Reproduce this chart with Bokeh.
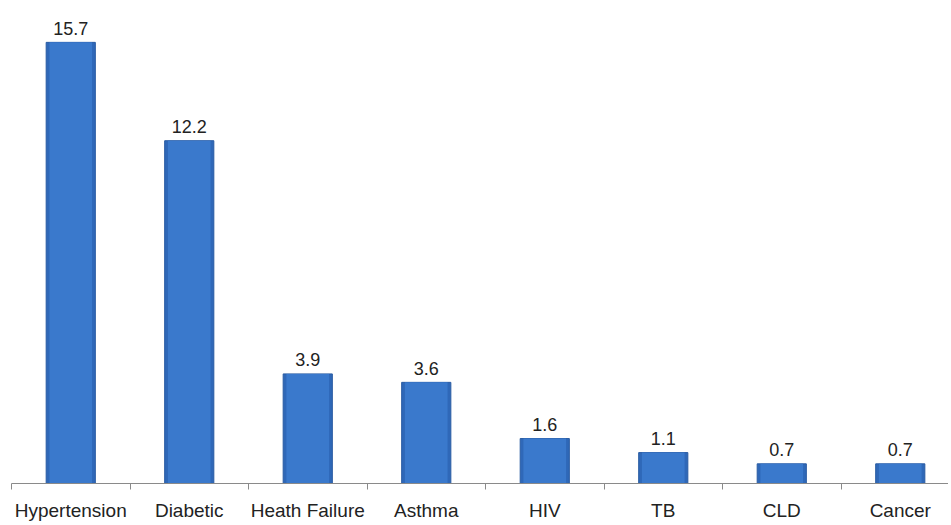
from bokeh.plotting import figure
from bokeh.models import FixedTicker, ColumnDataSource, Range1d
from bokeh.core.properties import value
from bokeh.embed import file_html
from bokeh.resources import INLINE

categories = ["Hypertension", "Diabetic", "Heath Failure", "Asthma", "HIV", "TB", "CLD", "Cancer"]
values = [15.7, 12.2, 3.9, 3.6, 1.6, 1.1, 0.7, 0.7]
value_labels = ["15.7", "12.2", "3.9", "3.6", "1.6", "1.1", "0.7", "0.7"]

FONT = "Liberation Sans"

xs = [i + 0.5 for i in range(len(categories))]
src = ColumnDataSource(dict(x=xs, top=values, lab=value_labels))

p = figure(width=948, height=523, output_backend="svg", toolbar_location=None,
           x_range=Range1d(0, 7.907), y_range=Range1d(0, 17.19),
           min_border_left=11, min_border_right=0, min_border_top=0, min_border_bottom=0)

p.outline_line_color = None
p.grid.grid_line_color = None
p.yaxis.visible = False

# bars with bevel-like edges
p.vbar(x="x", top="top", width=0.415, bottom=0, source=src,
       fill_color="#2F68B8", line_color="#2A5CA3", line_width=1)
p.vbar(x="x", top="top", width=0.36, bottom=0, source=src,
       fill_color="#3A79CC", line_color=None)

p.text(x="x", y="top", text="lab", source=src, y_offset=-14,
       text_align="center", text_baseline="alphabetic",
       text_font=value(FONT), text_font_size="18px", text_color="#222222")

ax = p.xaxis[0]
ax.ticker = FixedTicker(ticks=xs, minor_ticks=list(range(len(categories) + 1)))
ax.major_label_overrides = {x: c for x, c in zip(xs, categories)}
ax.major_tick_line_color = None
ax.major_tick_out = 6
ax.major_tick_in = 0
ax.minor_tick_out = 6
ax.minor_tick_in = 0
ax.minor_tick_line_color = "#8A8A8A"
ax.axis_line_color = "#8A8A8A"
ax.major_label_standoff = 10
ax.major_label_text_font = FONT
ax.major_label_text_font_size = "19px"
ax.major_label_text_color = "#222222"

open("out.html", "w").write(file_html(p, INLINE))
